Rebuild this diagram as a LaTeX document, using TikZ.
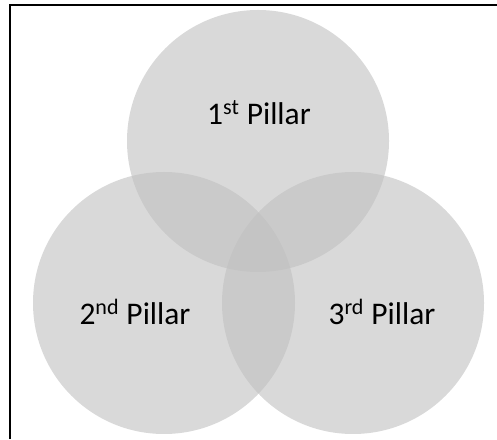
\documentclass[tikz,border=0pt]{standalone}
\usepackage{fontspec}
\setmainfont{Carlito}
\usepackage{tikz}
\definecolor{cinza}{RGB}{192,192,192}

\begin{document}
\begin{tikzpicture}[
	pilar/.style={circle, minimum size=6.55cm, inner sep=0pt, fill=cinza, fill opacity=0.6},
	rotulo/.style={anchor=base, font=\fontsize{22.4}{27}\selectfont},
	moldura/.style={line width=1.3pt}
	]
	\useasboundingbox (0,0) rectangle (12.425,10.975);

	\node[pilar] (P1) at (6.45,7.45) {};
	\node[pilar] (P2) at (4.1,3.4)   {};
	\node[pilar] (P3) at (8.825,3.4) {};

	\node[rotulo] (T1) at (6.475,7.85) {1\textsuperscript{st} Pillar};
	\node[rotulo] (T2) at (3.375,2.85) {2\textsuperscript{nd} Pillar};
	\node[rotulo] (T3) at (9.55,2.85)  {3\textsuperscript{rd} Pillar};

	\draw[moldura] (0.25,0) -- (0.25,10.85) -- (12.425,10.85);
\end{tikzpicture}
\end{document}
